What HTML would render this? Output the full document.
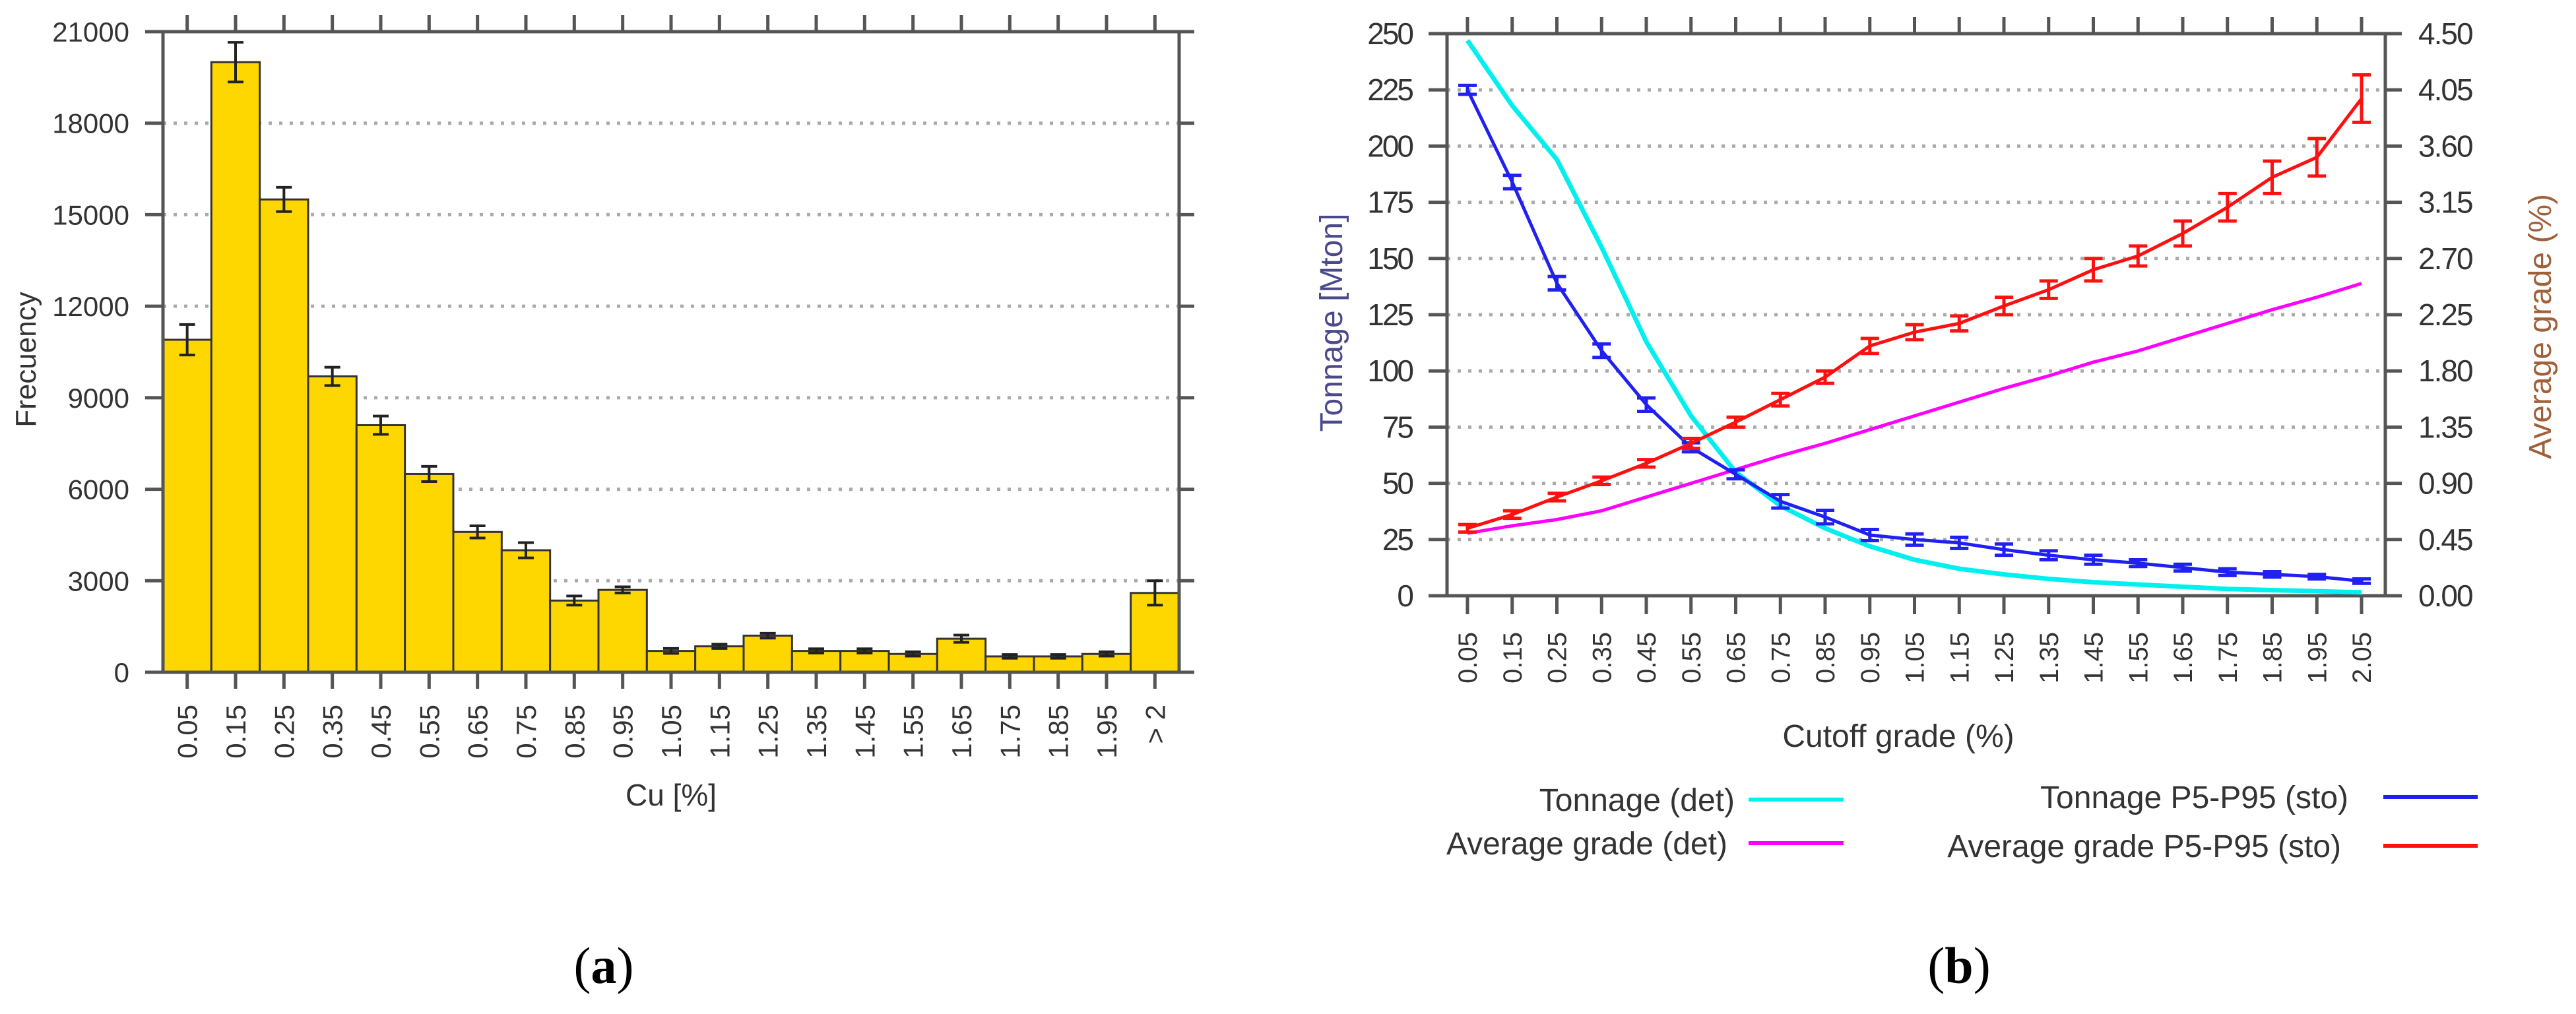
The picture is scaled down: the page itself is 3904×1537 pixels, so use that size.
<!DOCTYPE html>
<html><head><meta charset="utf-8"><style>
html,body{margin:0;padding:0;background:#fff;}
svg{display:block;font-family:"Liberation Sans","DejaVu Sans",sans-serif;}
</style></head><body>
<svg id="fig" width="3904" height="1537" viewBox="0 0 3904 1537" xmlns="http://www.w3.org/2000/svg">
<g id="chartA"></g>
<g id="chartB"></g>
<text x="915" y="1490" font-family="Liberation Serif, serif" font-size="78" text-anchor="middle" fill="#000">(<tspan font-weight="bold">a</tspan>)</text>
<text x="2969" y="1490" font-family="Liberation Serif, serif" font-size="78" text-anchor="middle" fill="#000">(<tspan font-weight="bold">b</tspan>)</text>
</svg>
<script>
// ---------- Chart A data ----------
const catsA = ["0.05","0.15","0.25","0.35","0.45","0.55","0.65","0.75","0.85","0.95","1.05","1.15","1.25","1.35","1.45","1.55","1.65","1.75","1.85","1.95","> 2"];
const freqA = [10900,20000,15500,9700,8100,6500,4600,4000,2350,2700,700,850,1200,700,700,600,1100,520,520,600,2600];
const errA = [500,650,400,300,300,250,200,250,150,100,80,70,80,70,70,70,120,60,60,70,400];
const ticksA = [0,3000,6000,9000,12000,15000,18000,21000];

// ---------- Chart B data ----------
const cutB = ["0.05","0.15","0.25","0.35","0.45","0.55","0.65","0.75","0.85","0.95","1.05","1.15","1.25","1.35","1.45","1.55","1.65","1.75","1.85","1.95","2.05"];
const tonDet = [247,218,194,155,113,80,55,40,30,22,16,12,9.5,7.5,6,5,4,3,2.5,2,1.5];
const tonSto = [225,184,139,109,85,66,54,42,35,27,25,23.5,20.5,18,16,14.5,12.5,10.5,9.5,8.5,6.5];
const tonErr = [2,3,3,3,3,2,2,3,3,2.5,2.5,2.5,2.5,2,2,1.5,1.5,1.5,1.2,1,1];
const gradeDet = [0.50,0.56,0.61,0.68,0.79,0.90,1.01,1.12,1.22,1.33,1.44,1.55,1.66,1.76,1.87,1.96,2.07,2.18,2.29,2.39,2.50];
const gradeSto = [0.54,0.65,0.79,0.92,1.06,1.22,1.39,1.57,1.75,2.00,2.11,2.18,2.32,2.45,2.61,2.72,2.90,3.11,3.35,3.51,3.98];
const gradeErr = [0.03,0.03,0.03,0.03,0.03,0.04,0.04,0.05,0.05,0.06,0.06,0.06,0.07,0.07,0.09,0.08,0.1,0.11,0.13,0.15,0.19];
const ticksTon = [0,25,50,75,100,125,150,175,200,225,250];
const ticksGrade = ["0.00","0.45","0.90","1.35","1.80","2.25","2.70","3.15","3.60","4.05","4.50"];

const NS="http://www.w3.org/2000/svg";
function mk(parent,tag,attrs,text){const e=document.createElementNS(NS,tag);for(const k in attrs)e.setAttribute(k,attrs[k]);if(text!==undefined)e.textContent=text;parent.appendChild(e);return e;}
const AX="#555", TXT="#333";

// ================= Chart A =================
(function(){
  const g=document.getElementById('chartA');
  const L=247,R=1787,T=48,B=1019,ymax=21000;
  const n=catsA.length, bw=(R-L)/n;
  const xc=i=>L+bw*(i+0.5);
  const y=v=>B-(v/ymax)*(B-T);
  // grid
  ticksA.forEach(t=>{ if(t>0&&t<ymax){ const l=mk(g,'line',{x1:L,x2:R,y1:y(t),y2:y(t),stroke:'#aaa','stroke-width':5,'stroke-dasharray':'5 11'});
    
     }});
  // bars
  freqA.forEach((v,i)=>{
    const r=mk(g,'rect',{x:L+bw*i,y:y(v),width:bw,height:B-y(v),fill:'#FFD700',stroke:'#333','stroke-width':3});
    
    
    const e=mk(g,'path',{d:`M${xc(i)} ${y(v+errA[i])}V${y(v-errA[i])}M${xc(i)-12} ${y(v+errA[i])}h24M${xc(i)-12} ${y(v-errA[i])}h24`,stroke:'#222','stroke-width':4,fill:'none'});
    
    
  });
  // axes frame
  const fr=mk(g,'path',{d:`M${L} ${B}V${T}M220 ${T}H1810M${R} ${T}V${B}M220 ${B}H1810`,stroke:AX,'stroke-width':5,fill:'none'});
  
  
  ticksA.forEach(t=>{
    mk(g,'path',{d:`M220 ${y(t)}H${L}M${R} ${y(t)}H1810`,stroke:AX,'stroke-width':5});
    const tx=mk(g,'text',{x:196,y:y(t)+15,'text-anchor':'end','font-size':42,fill:TXT},String(t));
    
    
  });
  catsA.forEach((c,i)=>{
    mk(g,'path',{d:`M${xc(i)} ${T}V${T-25}M${xc(i)} ${B}V${B+25}`,stroke:AX,'stroke-width':5});
    const tx=mk(g,'text',{x:0,y:0,'text-anchor':'end','font-size':42,fill:TXT,transform:`translate(${xc(i)+15},1068) rotate(-90)`},c);
    
    
  });
  const yt=mk(g,'text',{x:0,y:0,'text-anchor':'middle','font-size':44,fill:TXT,transform:'translate(54,545) rotate(-90)'},'Frecuency');
  
  
  const xt=mk(g,'text',{x:1017,y:1221,'text-anchor':'middle','font-size':46,fill:TXT},'Cu [%]');
  
  
})();

// ================= Chart B =================
(function(){
  const g=document.getElementById('chartB');
  const L=2193,R=3615,T=51,B=903;
  const x0=2224, dx=(3579-2224)/(cutB.length-1);
  const x=i=>x0+dx*i;
  const yT=v=>B-(v/250)*(B-T);
  const yG=v=>B-(v/4.5)*(B-T);
  ticksTon.forEach(t=>{ if(t>0&&t<250){ const l=mk(g,'line',{x1:L,x2:R,y1:yT(t),y2:yT(t),stroke:'#aaa','stroke-width':5,'stroke-dasharray':'5 11'});
    
     }});
  const fr=mk(g,'path',{d:`M${L} ${B}V${T}M2165 ${T}H3640M${R} ${T}V${B}M2165 ${B}H3640`,stroke:AX,'stroke-width':5,fill:'none'});
  
  
  ticksTon.forEach(t=>{
    mk(g,'path',{d:`M2165 ${yT(t)}H${L}`,stroke:AX,'stroke-width':5});
    const tx=mk(g,'text',{x:2140,y:yT(t)+16,'text-anchor':'end','font-size':46,fill:TXT,'letter-spacing':-3},String(t));
    
    
  });
  ticksGrade.forEach(t=>{
    const v=parseFloat(t);
    mk(g,'path',{d:`M${R} ${yG(v)}H3640`,stroke:AX,'stroke-width':5});
    const tx=mk(g,'text',{x:3665,y:yG(v)+16,'text-anchor':'start','font-size':46,fill:TXT,'letter-spacing':-2},t);
    
    
  });
  cutB.forEach((c,i)=>{
    mk(g,'path',{d:`M${x(i)} ${T}V${T-25}M${x(i)} ${B}V${B+28}`,stroke:AX,'stroke-width':5});
    const tx=mk(g,'text',{x:0,y:0,'text-anchor':'end','font-size':40,fill:TXT,transform:`translate(${x(i)+14},958) rotate(-90)`},c);
    
    
  });
  const line=(vals,fn,color,w,name)=>{
    const p=mk(g,'polyline',{points:vals.map((v,i)=>x(i)+','+fn(v)).join(' '),fill:'none',stroke:color,'stroke-width':w,'stroke-linejoin':'round'});
    
    
  };
  const errs=(vals,err,fn,color,name)=>{
    let d='';
    vals.forEach((v,i)=>{const a=fn(v+err[i]),b=fn(v-err[i]);d+=`M${x(i)} ${a}V${b}M${x(i)-14} ${a}h28M${x(i)-14} ${b}h28`;});
    const p=mk(g,'path',{d:d,stroke:color,'stroke-width':5,fill:'none'});
    
    
  };
  line(gradeDet,yG,'#ff00ff',5,'average-grade-det-line');
  line(tonDet,yT,'#00f0f0',7,'tonnage-det-line');
  line(tonSto,yT,'#2020f0',5,'tonnage-sto-line');
  errs(tonSto,tonErr,yT,'#2020f0','tonnage-sto-error-bars');
  line(gradeSto,yG,'#ff1010',5,'average-grade-sto-line');
  errs(gradeSto,gradeErr,yG,'#ff1010','average-grade-sto-error-bars');

  const yl=mk(g,'text',{x:0,y:0,'text-anchor':'middle','font-size':48,fill:'#4a4a8a',transform:'translate(2034,489) rotate(-90)'},'Tonnage [Mton]');
  
  
  const yr=mk(g,'text',{x:0,y:0,'text-anchor':'middle','font-size':48,fill:'#a0603a',transform:'translate(3866,495) rotate(-90)'},'Average grade (%)');
  
  
  const xt=mk(g,'text',{x:2877,y:1132,'text-anchor':'middle','font-size':48,fill:TXT},'Cutoff grade (%)');
  
  

  const legend=[["Tonnage (det)","#00f0f0",2629,2650,2794,1212,'legend-tonnage-det'],
                ["Average grade (det)","#ff00ff",2618,2650,2794,1278,'legend-average-grade-det'],
                ["Tonnage P5-P95 (sto)","#2020f0",3559,3612,3755,1208,'legend-tonnage-sto'],
                ["Average grade P5-P95 (sto)","#ff1010",3548,3612,3755,1282,'legend-average-grade-sto']];
  legend.forEach(l=>{
    const gg=mk(g,'g',{});
    
    
    mk(gg,'text',{x:l[2],y:l[5]+17,'text-anchor':'end','font-size':48,fill:TXT},l[0]);
    mk(gg,'line',{x1:l[3],x2:l[4],y1:l[5],y2:l[5],stroke:l[1],'stroke-width':6});
  });
})();
</script>
</body></html>
